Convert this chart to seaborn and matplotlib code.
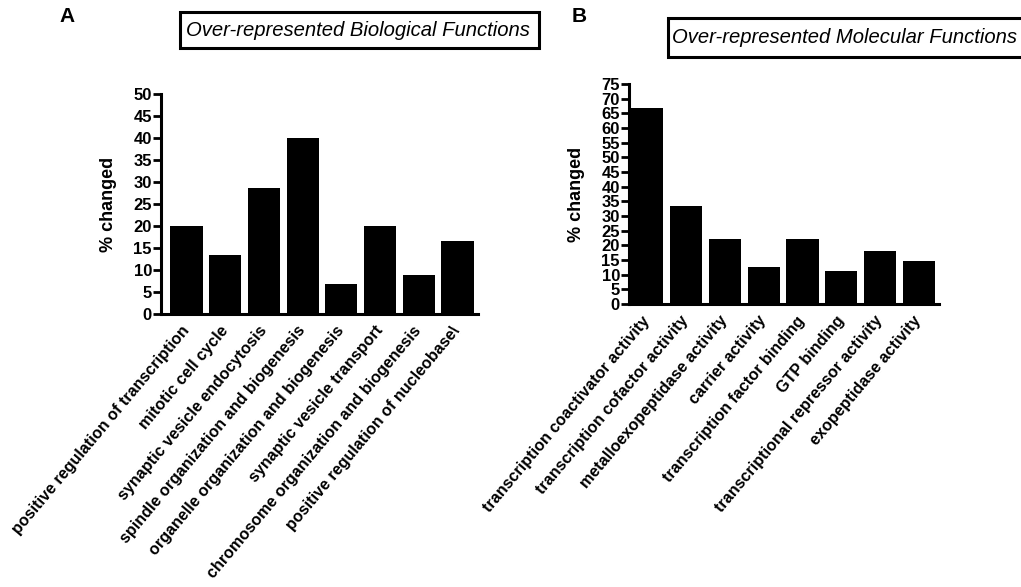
import matplotlib
matplotlib.use("Agg")
import matplotlib.pyplot as plt
from matplotlib.patches import Rectangle
import seaborn as sns
import pandas as pd
import numpy as np

# Biological functions (panel A)
bio_terms = [
    "positive regulation of transcription",
    "mitotic cell cycle",
    "synaptic vesicle endocytosis",
    "spindle organization and biogenesis",
    "organelle organization and biogenesis",
    "synaptic vesicle transport",
    "chromosome organization and biogenesis",
    "positive regulation of nucleobase\\",
]
bio_pct = [20.0, 13.3, 28.6, 40.0, 6.9, 20.0, 8.9, 16.7]

# Molecular functions (panel B)
mol_terms = [
    "transcription coactivator activity",
    "transcription cofactor activity",
    "metalloexopeptidase activity",
    "carrier activity",
    "transcription factor binding",
    "GTP binding",
    "transcriptional repressor activity",
    "exopeptidase activity",
]
mol_pct = [66.7, 33.3, 22.2, 12.5, 22.2, 11.1, 18.2, 14.8]

sns.set_theme(style="ticks")
plt.rcParams["font.family"] = ["Liberation Sans", "DejaVu Sans"]
plt.rcParams.update({
    "text.color": "black",
    "axes.labelcolor": "black",
    "xtick.color": "black",
    "ytick.color": "black",
    "axes.edgecolor": "black",
})

fig = plt.figure(figsize=(10.21, 5.87), dpi=100)
W, H = 1021, 587


def px_axes(left, right, top, bottom):
    return fig.add_axes([left / W, 1 - bottom / H, (right - left) / W, (bottom - top) / H])


def draw_panel(ax, terms, values, ymax, xlim):
    df = pd.DataFrame({"term": terms, "pct": values})
    sns.barplot(data=df, x="term", y="pct", order=terms, color="black",
                saturation=1, width=0.83, edgecolor="black", linewidth=0, ax=ax)
    ax.set_xlim(*xlim)
    ax.set_ylim(0, ymax)
    ax.set_yticks(np.arange(0, ymax + 1, 5))
    ax.set_xticks(range(len(terms)))
    ax.set_xticklabels(terms, rotation=50, ha="right", va="center",
                       rotation_mode="anchor", fontsize=11.6, fontweight="bold")
    for t in ax.get_yticklabels():
        t.set_fontweight("bold")
        t.set_fontsize(12)
    ax.tick_params(axis="x", length=0, pad=10)
    ax.tick_params(axis="y", length=6, width=2, pad=0.5)
    for s in ["top", "right"]:
        ax.spines[s].set_visible(False)
    for s in ["left", "bottom"]:
        ax.spines[s].set_linewidth(2.2)
    ax.set_xlabel("")
    ax.set_ylabel("% changed", fontsize=13, fontweight="bold", labelpad=12)


axA = px_axes(161, 478, 94, 314)
draw_panel(axA, bio_terms, bio_pct, 50, (-0.66, 7.53))

axB = px_axes(629, 939, 84, 304)
draw_panel(axB, mol_terms, mol_pct, 75, (-0.47, 7.52))

# Panel letters
fig.text(59 / W, 1 - 16 / H, "A", fontsize=15, fontweight="bold", va="center", ha="left")
fig.text(572 / W, 1 - 16 / H, "B", fontsize=15, fontweight="bold", va="center", ha="left")


# Boxed panel titles
def title_box(x0, x1, y0, y1, text, tx):
    fig.patches.append(Rectangle((x0 / W, 1 - y1 / H), (x1 - x0) / W, (y1 - y0) / H,
                                 transform=fig.transFigure, facecolor="white",
                                 edgecolor="black", linewidth=2.2))
    fig.text(tx / W, 1 - (y0 + y1) / 2 / H, text, fontsize=14.6, fontstyle="italic",
             va="center", ha="left")


title_box(180, 539, 12, 48, "Over-represented Biological Functions", 186)
title_box(668, 1030, 18, 57, "Over-represented Molecular Functions", 672)

fig.savefig("out.png", dpi=100)
